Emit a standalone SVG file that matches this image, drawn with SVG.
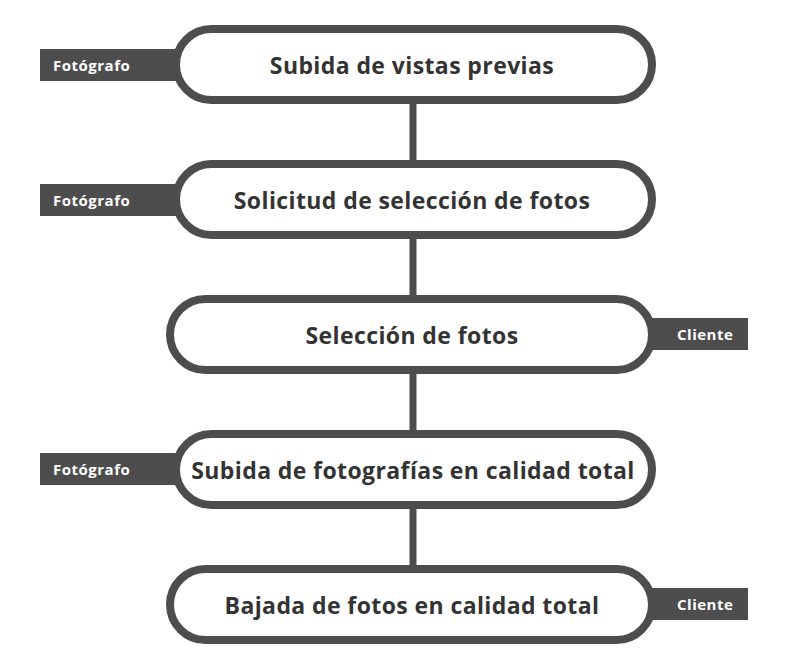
<svg xmlns="http://www.w3.org/2000/svg" width="788" height="668" viewBox="0 0 788 668">
<style>
.tag{fill:#4d4d4d}
.tagt{fill:#ffffff;font-family:"Open Sans","DejaVu Sans",sans-serif;font-weight:bold;font-size:15px;letter-spacing:0.5px}
.node{fill:#ffffff;stroke:#4d4d4d;stroke-width:8}
.lbl{fill:#333333;font-family:"Open Sans","DejaVu Sans",sans-serif;font-weight:bold;font-size:23px;letter-spacing:0.4px;text-anchor:middle}
.conn{stroke:#4d4d4d;stroke-width:7;fill:none}
</style>
<rect width="788" height="668" fill="#ffffff"/>
<g id="connectors">
<line class="conn" x1="413" y1="100" x2="413" y2="164"/>
<line class="conn" x1="413" y1="235" x2="413" y2="299"/>
<line class="conn" x1="413" y1="370" x2="413" y2="434"/>
<line class="conn" x1="413" y1="505" x2="413" y2="569"/>
</g>
<g id="node1">
<rect class="tag" x="40" y="49" width="140" height="32"/>
<text class="tagt" x="53" y="70.5">Fotógrafo</text>
<rect class="node" x="176" y="29" width="476" height="71" rx="35.5"/>
<text class="lbl" x="412" y="74">Subida de vistas previas</text>
</g>
<g id="node2">
<rect class="tag" x="40" y="184" width="140" height="32"/>
<text class="tagt" x="53" y="205.5">Fotógrafo</text>
<rect class="node" x="176" y="164" width="476" height="71" rx="35.5"/>
<text class="lbl" x="412" y="209">Solicitud de selección de fotos</text>
</g>
<g id="node3">
<rect class="tag" x="645" y="318" width="103" height="32"/>
<text class="tagt" x="677" y="339.5">Cliente</text>
<rect class="node" x="170" y="299" width="482" height="71" rx="35.5"/>
<text class="lbl" x="412" y="344">Selección de fotos</text>
</g>
<g id="node4">
<rect class="tag" x="40" y="453" width="140" height="32"/>
<text class="tagt" x="53" y="474.5">Fotógrafo</text>
<rect class="node" x="176" y="434" width="476" height="71" rx="35.5"/>
<text class="lbl" x="413" y="479">Subida de fotografías en calidad total</text>
</g>
<g id="node5">
<rect class="tag" x="645" y="588" width="103" height="32"/>
<text class="tagt" x="677" y="609.5">Cliente</text>
<rect class="node" x="170" y="569" width="482" height="71" rx="35.5"/>
<text class="lbl" x="412" y="614">Bajada de fotos en calidad total</text>
</g>
</svg>
